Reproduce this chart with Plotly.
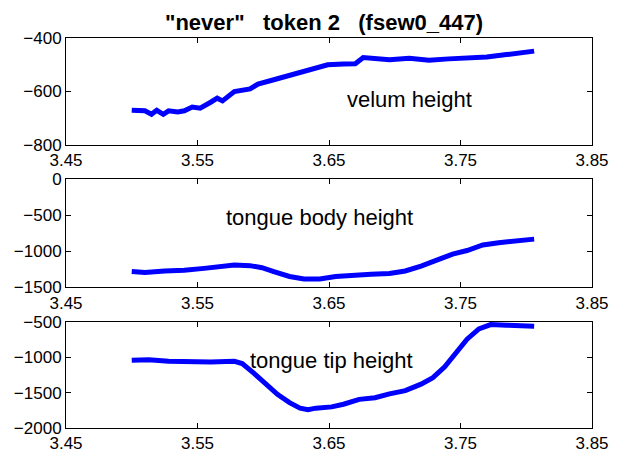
import plotly.graph_objects as go

# ---- data ----
velum_t = [3.500, 3.510, 3.515, 3.519, 3.524, 3.528, 3.535, 3.540, 3.546, 3.552,
           3.560, 3.565, 3.569, 3.578, 3.590, 3.596, 3.608, 3.620, 3.631, 3.640,
           3.649, 3.661, 3.670, 3.676, 3.685, 3.696, 3.711, 3.726, 3.741, 3.755,
           3.770, 3.785, 3.797, 3.806]
velum_y = [-670, -672, -685, -670, -685, -672, -676, -672, -658, -662,
           -640, -625, -635, -600, -590, -572, -556, -540, -528, -516,
           -500, -497, -496, -473, -477, -481, -476, -483, -478, -476,
           -471, -462, -456, -449]

body_t = [3.500, 3.510, 3.525, 3.540, 3.555, 3.566, 3.578, 3.590, 3.599, 3.608,
          3.620, 3.631, 3.643, 3.655, 3.667, 3.682, 3.696, 3.708, 3.720, 3.732,
          3.744, 3.755, 3.767, 3.779, 3.791, 3.806]
body_y = [-1283, -1297, -1274, -1265, -1238, -1220, -1190, -1200, -1229, -1283,
          -1351, -1387, -1385, -1351, -1333, -1319, -1310, -1274, -1206, -1130,
          -1039, -990, -913, -881, -858, -831]

tip_t = [3.500, 3.513, 3.528, 3.543, 3.560, 3.578, 3.584, 3.593, 3.602, 3.611,
         3.620, 3.628, 3.634, 3.640, 3.652, 3.661, 3.673, 3.685, 3.696, 3.708,
         3.720, 3.729, 3.738, 3.747, 3.755, 3.764, 3.773, 3.785, 3.797, 3.806]
tip_y = [-1043, -1034, -1057, -1066, -1066, -1057, -1089, -1227, -1388, -1526,
         -1641, -1719, -1742, -1719, -1701, -1664, -1595, -1572, -1517, -1471,
         -1379, -1287, -1135, -928, -744, -597, -537, -546, -546, -560]

x_ticks = [3.45, 3.55, 3.65, 3.75, 3.85]
y1_ticks = [-800, -600, -400]
y2_ticks = [-1500, -1000, -500, 0]
y3_ticks = [-2000, -1500, -1000, -500]

title = '"never"\u00a0\u00a0\u00a0token 2\u00a0\u00a0\u00a0(fsew0_447)'
labels = ["velum height", "tongue body height", "tongue tip height"]

FONT = "Liberation Sans, Arial, Helvetica, sans-serif"
BLUE = "rgb(0,0,255)"

fig = go.Figure()
fig.add_trace(go.Scatter(x=velum_t, y=velum_y, mode="lines",
                         line=dict(color=BLUE, width=5), xaxis="x", yaxis="y"))
fig.add_trace(go.Scatter(x=body_t, y=body_y, mode="lines",
                         line=dict(color=BLUE, width=5), xaxis="x2", yaxis="y2"))
fig.add_trace(go.Scatter(x=tip_t, y=tip_y, mode="lines",
                         line=dict(color=BLUE, width=5), xaxis="x3", yaxis="y3"))

def xax(anchor):
    return dict(anchor=anchor, domain=[0, 1], range=[3.45, 3.85],
                tickvals=x_ticks, ticktext=[f"{v:.2f}" for v in x_ticks],
                showline=True, linecolor="black", linewidth=1, mirror="ticks",
                ticks="inside", ticklen=5, tickcolor="black",
                showgrid=False, zeroline=False,
                tickfont=dict(family=FONT, size=17, color="black"))

def yax(anchor, dom, rng, tv):
    return dict(anchor=anchor, domain=dom, range=rng, tickvals=tv,
                showline=True, linecolor="black", linewidth=1, mirror="ticks",
                ticks="inside", ticklen=5, tickcolor="black",
                showgrid=False, zeroline=False,
                tickfont=dict(family=FONT, size=17, color="black"))

fig.update_layout(
    width=621, height=465,
    margin=dict(l=66, r=17, t=38, b=27),
    paper_bgcolor="white", plot_bgcolor="white",
    showlegend=False,
    xaxis=xax("y"), yaxis=yax("x", [0.7255, 1.0], [-800, -400], y1_ticks),
    xaxis2=xax("y2"), yaxis2=yax("x2", [0.361, 0.6375], [-1500, 0], y2_ticks),
    xaxis3=xax("y3"), yaxis3=yax("x3", [0.0, 0.2718], [-2000, -500], y3_ticks),
    annotations=[
        dict(text="<b>" + title + "</b>", xref="paper", yref="paper",
             x=0.49, y=1.0, yanchor="bottom", yshift=1, showarrow=False,
             font=dict(family=FONT, size=22, color="black")),
        dict(text=labels[0], xref="x", yref="y", x=3.711, y=-628,
             showarrow=False, font=dict(family=FONT, size=22, color="black")),
        dict(text=labels[1], xref="x2", yref="y2", x=3.643, y=-529,
             showarrow=False, font=dict(family=FONT, size=22, color="black")),
        dict(text=labels[2], xref="x3", yref="y3", x=3.652, y=-1038,
             showarrow=False, font=dict(family=FONT, size=22, color="black")),
    ],
)

fig.write_html("out.html")
